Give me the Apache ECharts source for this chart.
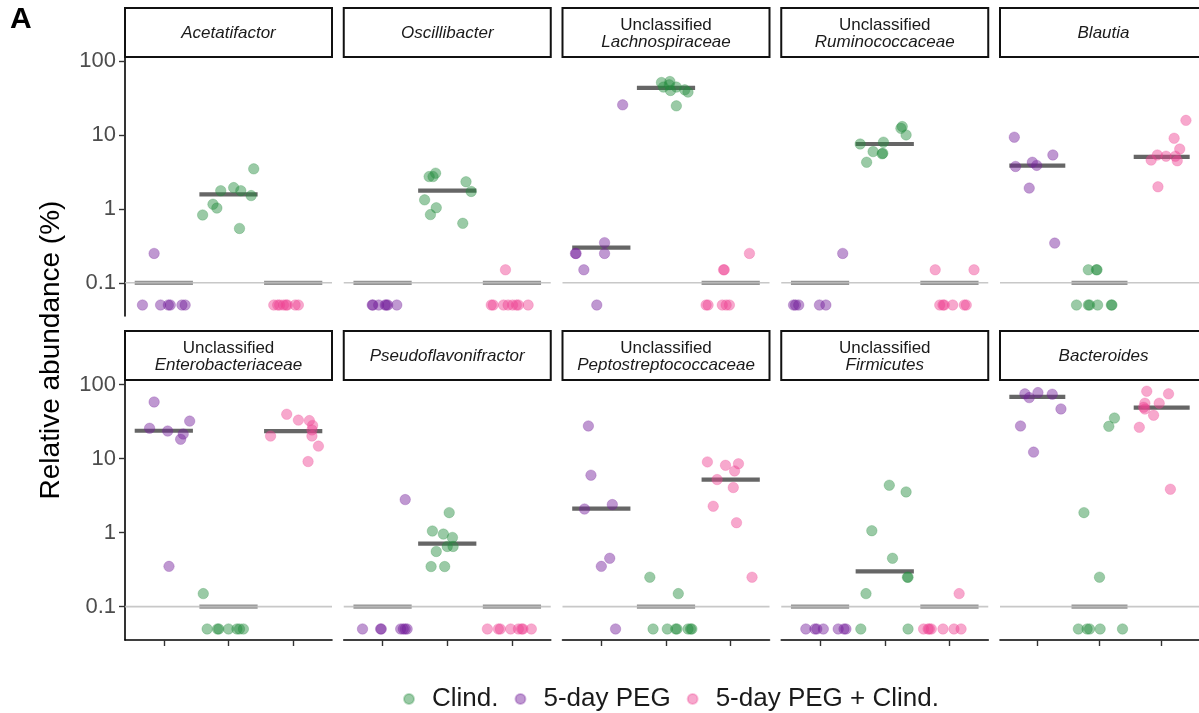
<!DOCTYPE html>
<html><head><meta charset="utf-8">
<script src="https://cdn.jsdelivr.net/npm/echarts@6/dist/echarts.min.js"></script>
<style>html,body{margin:0;padding:0;background:#fff}#c{width:1199px;height:713px}</style>
</head><body><div id="c"></div>
<script>
// ---------- data ----------
const taxaPrefix = ['', '', 'Unclassified', 'Unclassified', '', 'Unclassified', '', 'Unclassified', 'Unclassified', ''];
const taxaNames = ['Acetatifactor', 'Oscillibacter', 'Lachnospiraceae', 'Ruminococcaceae', 'Blautia',
  'Enterobacteriaceae', 'Pseudoflavonifractor', 'Peptostreptococcaceae', 'Firmicutes', 'Bacteroides'];
const groupNames = ['5-day PEG', 'Clind.', '5-day PEG + Clind.'];   // x order
const legendOrder = ['Clind.', '5-day PEG', '5-day PEG + Clind.'];
const yTickValues = [0.1, 1, 10, 100];
const yTickLabels = ['0.1', '1', '10', '100'];
const detectionLimit = 0.1;

const pegValues = [
  [0.25, 0.05, 0.05, 0.05, 0.05, 0.05, 0.05],
  [0.05, 0.05, 0.05, 0.05, 0.05, 0.05, 0.05],
  [25.8, 0.35, 0.25, 0.25, 0.25, 0.15, 0.05],
  [0.25, 0.05, 0.05, 0.05, 0.05, 0.05],
  [9.4, 5.4, 4.3, 3.77, 3.9, 1.92, 0.345],
  [58, 32, 25.6, 23.5, 21.4, 18.2, 0.35],
  [2.79, 0.05, 0.05, 0.05, 0.05, 0.05, 0.05, 0.05],
  [27.5, 5.96, 2.39, 2.08, 0.45, 0.35, 0.05],
  [0.05, 0.05, 0.05, 0.05, 0.05, 0.05, 0.05],
  [77.6, 74.6, 73.8, 66.4, 46.7, 27.5, 12.2]
];
const pegJitter = [
  [-0.15, -0.33, -0.05, 0.07, 0.10, 0.28, 0.33],
  [-0.16, -0.15, -0.06, 0.04, 0.06, 0.08, 0.22],
  [0.33, 0.05, 0.05, -0.40, -0.39, -0.27, -0.07],
  [0.35, -0.41, -0.38, -0.33, -0.01, 0.09],
  [-0.37, 0.25, -0.08, -0.35, -0.01, -0.13, 0.28],
  [-0.15, 0.40, -0.22, 0.06, 0.30, 0.26, 0.08],
  [0.35, -0.31, -0.03, -0.02, 0.28, 0.32, 0.35, 0.38],
  [-0.20, -0.16, 0.17, -0.26, 0.13, 0.0, 0.22],
  [-0.22, -0.08, -0.05, 0.05, 0.28, 0.37, 0.40],
  [0.01, -0.20, 0.24, -0.13, 0.38, -0.27, -0.06]
];
const clindValues = [
  [3.5, 1.95, 1.77, 1.77, 1.52, 1.16, 1.03, 0.83, 0.545],
  [3.06, 2.75, 2.75, 2.34, 1.73, 1.33, 1.04, 0.84, 0.64],
  [51.8, 53.4, 48.2, 44.9, 44.9, 40.4, 41.2, 38.4, 25.0],
  [13.1, 12.4, 10.1, 7.6, 8.05, 6.0, 5.6, 5.7, 4.3],
  [0.15, 0.15, 0.15, 0.05, 0.05, 0.05, 0.05, 0.05, 0.05],
  [0.15, 0.05, 0.05, 0.05, 0.05, 0.05, 0.05, 0.05],
  [1.86, 1.05, 0.955, 0.86, 0.65, 0.65, 0.556, 0.348, 0.348],
  [0.25, 0.15, 0.05, 0.05, 0.05, 0.05, 0.05, 0.05, 0.05],
  [4.36, 3.54, 1.06, 0.45, 0.25, 0.25, 0.15, 0.05, 0.05],
  [35.2, 27.2, 1.86, 0.25, 0.05, 0.05, 0.05, 0.05, 0.05]
];
const clindJitter = [
  [0.39, 0.08, -0.12, 0.19, 0.35, -0.24, -0.18, -0.40, 0.17],
  [-0.18, -0.28, -0.22, 0.29, 0.37, -0.35, -0.17, -0.26, 0.24],
  [-0.07, 0.06, 0.05, -0.04, 0.16, 0.07, 0.29, 0.34, 0.16],
  [0.27, 0.25, 0.33, -0.38, -0.02, -0.18, -0.04, -0.03, -0.28],
  [-0.18, -0.05, -0.04, -0.37, -0.18, -0.16, -0.03, 0.19, 0.20],
  [-0.39, -0.33, -0.17, -0.15, 0.0, 0.13, 0.17, 0.23],
  [0.03, -0.23, -0.06, 0.08, 0.0, 0.09, -0.17, -0.25, -0.04],
  [-0.25, 0.19, -0.20, 0.02, 0.15, 0.17, 0.34, 0.38, 0.40],
  [0.07, 0.33, -0.20, 0.12, 0.35, 0.36, -0.29, -0.37, 0.36],
  [0.24, 0.15, -0.25, 0.0, -0.34, -0.20, -0.16, 0.01, 0.37]
];
const comboValues = [
  [0.05, 0.05, 0.05, 0.05, 0.05, 0.05, 0.05, 0.05],
  [0.15, 0.05, 0.05, 0.05, 0.05, 0.05, 0.05, 0.05, 0.05],
  [0.25, 0.15, 0.15, 0.05, 0.05, 0.05, 0.05, 0.05],
  [0.15, 0.15, 0.05, 0.05, 0.05, 0.05, 0.05, 0.05],
  [15.9, 9.1, 6.5, 5.4, 5.2, 5.2, 4.6, 4.5, 2.0],
  [39.6, 33, 32.5, 28, 24.3, 20.1, 20.1, 14.7, 9.1],
  [0.05, 0.05, 0.05, 0.05, 0.05, 0.05, 0.05, 0.05],
  [9.0, 8.1, 8.5, 6.8, 5.2, 4.06, 2.27, 1.36, 0.25],
  [0.15, 0.05, 0.05, 0.05, 0.05, 0.05, 0.05, 0.05],
  [81, 74.6, 55.8, 55.8, 49.2, 46.5, 38.4, 26.4, 3.85]
];
const comboJitter = [
  [-0.30, -0.24, -0.21, -0.15, -0.11, -0.09, 0.03, 0.08],
  [-0.10, -0.32, -0.29, -0.13, -0.06, 0.01, 0.07, 0.10, 0.25],
  [0.29, -0.11, -0.10, -0.38, -0.35, -0.13, -0.07, -0.02],
  [-0.22, 0.38, -0.15, -0.10, -0.08, 0.05, 0.23, 0.26],
  [0.39, 0.20, 0.29, -0.07, 0.07, 0.22, -0.17, 0.25, -0.06],
  [-0.10, 0.08, 0.25, 0.30, 0.29, -0.35, 0.29, 0.39, 0.23],
  [-0.38, -0.21, -0.18, -0.02, 0.10, 0.15, 0.17, 0.30],
  [-0.36, -0.08, 0.12, 0.06, -0.21, 0.04, -0.27, 0.09, 0.33],
  [0.15, -0.40, -0.33, -0.31, -0.28, -0.10, 0.07, 0.18],
  [-0.24, 0.11, -0.27, -0.04, -0.29, -0.27, -0.13, -0.36, 0.14]
];
const pegMedian   = [0.1, 0.1, 0.30, 0.1, 3.88, 23.7, 0.1, 2.11, 0.1, 68];
const clindMedian = [1.58, 1.78, 43.9, 7.6, 0.1, 0.1, 0.71, 0.1, 0.30, 0.1];
const comboMedian = [0.1, 0.1, 0.1, 0.1, 5.1, 23.5, 0.1, 5.2, 0.1, 48.6];

// ---------- style / layout ----------
const FONT = '"Liberation Sans", Arial, Helvetica, sans-serif';
const groupColors = {
  '5-day PEG': 'rgba(115,30,155,0.46)',
  'Clind.': 'rgba(35,140,60,0.46)',
  '5-day PEG + Clind.': 'rgba(238,65,145,0.46)'
};
const groupBorders = {
  '5-day PEG': 'rgba(115,30,155,0.30)',
  'Clind.': 'rgba(35,140,60,0.30)',
  '5-day PEG + Clind.': 'rgba(238,65,145,0.30)'
};
const colLeft = [125, 343.75, 562.5, 781.25, 1000];
const panelW = 207;
const rowTop = [57, 380];
const rowH = [259, 260];
const stripH = 49;
const yMin = -1.45, yMax = 2.06;   // log10 extent of the axis

const log10 = v => Math.log10(v);
const valuesByGroup = [pegValues, clindValues, comboValues];
const jitterByGroup = [pegJitter, clindJitter, comboJitter];
const mediansByGroup = [pegMedian, clindMedian, comboMedian];

const grids = [], xAxes = [], yAxes = [], series = [], graphics = [];

for (let p = 0; p < 10; p++) {
  const row = Math.floor(p / 5), col = p % 5;
  grids.push({ left: colLeft[col], top: rowTop[row], width: panelW, height: rowH[row] });
  xAxes.push({
    type: 'value', gridIndex: p, min: 0.4, max: 3.6,
    show: row === 1,
    splitLine: { show: false },
    axisLine: { show: row === 1, onZero: false, lineStyle: { color: '#000', width: 1.6 } },
    axisTick: { show: row === 1, customValues: [1, 2, 3], length: 6, lineStyle: { color: '#333', width: 1.4 } },
    axisLabel: { show: false }
  });
  yAxes.push({
    type: 'value', gridIndex: p, min: yMin, max: yMax,
    show: col === 0,
    splitLine: { show: false },
    axisLine: { show: col === 0, onZero: false, lineStyle: { color: '#000', width: 1.6 } },
    axisTick: { show: col === 0, customValues: yTickValues.map(log10), length: 6, lineStyle: { color: '#333', width: 1.4 } },
    axisLabel: {
      show: col === 0, customValues: yTickValues.map(log10), margin: 9,
      color: '#4d4d4d', fontSize: 22, fontFamily: FONT,
      formatter: v => {
        const i = yTickValues.findIndex(t => Math.abs(log10(t) - v) < 1e-6);
        return i >= 0 ? yTickLabels[i] : '';
      }
    }
  });

  // median bars
  series.push({
    type: 'custom', xAxisIndex: p, yAxisIndex: p, z: 2, silent: true,
    data: mediansByGroup.map((m, gi) => [gi + 1, log10(m[p])]),
    renderItem: (params, api) => {
      const x = api.value(0), y = api.value(1);
      const a = api.coord([x - 0.45, y]), b = api.coord([x + 0.45, y]);
      const atLimit = Math.abs(y - log10(detectionLimit)) < 1e-6;
      return {
        type: 'line', shape: { x1: a[0], y1: a[1], x2: b[0], y2: b[1] },
        style: { stroke: atLimit ? '#959595' : '#666666', lineWidth: 4.2 }
      };
    }
  });
  // detection limit line
  series.push({
    type: 'line', xAxisIndex: p, yAxisIndex: p, z: 3, silent: true,
    data: [[0.4, log10(detectionLimit)], [3.6, log10(detectionLimit)]],
    showSymbol: false, symbol: 'none',
    lineStyle: { color: 'rgba(190,190,190,0.85)', width: 1.6 }
  });
  // points
  groupNames.forEach((g, gi) => {
    series.push({
      type: 'scatter', name: g, xAxisIndex: p, yAxisIndex: p, z: 5,
      symbol: 'circle', symbolSize: 10.5,
      itemStyle: { color: groupColors[g], borderColor: groupBorders[g], borderWidth: 0.8, opacity: 1 },
      data: valuesByGroup[gi][p].map((v, k) => [gi + 1 + jitterByGroup[gi][p][k], log10(v)])
    });
  });

  // strip
  const sx = colLeft[col], sy = rowTop[row] - stripH;
  graphics.push({
    type: 'rect', shape: { x: sx, y: sy, width: panelW, height: stripH },
    style: { fill: '#fff', stroke: '#111', lineWidth: 2 }, z: 10
  });
  const txt = taxaPrefix[p] ? '{n|' + taxaPrefix[p] + '}\n{i|' + taxaNames[p] + '}' : '{i|' + taxaNames[p] + '}';
  graphics.push({
    type: 'text', x: sx + panelW / 2, y: sy + stripH / 2 + 1, z: 11,
    style: {
      text: txt, align: 'center', verticalAlign: 'middle',
      rich: {
        n: { fontFamily: FONT, fontSize: 17, fontStyle: 'normal', fill: '#1a1a1a', lineHeight: 17, align: 'center' },
        i: { fontFamily: FONT, fontSize: 17, fontStyle: 'italic', fill: '#1a1a1a', lineHeight: 17, align: 'center' }
      }
    }
  });
}

graphics.push({
  type: 'text', x: 10, y: 5, z: 11,
  style: { text: 'A', fontFamily: FONT, fontSize: 30, fontWeight: 'bold', fill: '#000' }
});
graphics.push({
  type: 'text', x: 51, y: 350, rotation: Math.PI / 2, z: 11,
  style: { text: 'Relative abundance (%)', fontFamily: FONT, fontSize: 28, fill: '#000', align: 'center', verticalAlign: 'middle' }
});

const chart = echarts.init(document.getElementById('c'), null, { renderer: 'canvas' });
chart.setOption({
  backgroundColor: '#fff',
  animation: false,
  grid: grids, xAxis: xAxes, yAxis: yAxes, series: series,
  legend: {
    data: legendOrder, left: 398, top: 681,
    icon: 'circle', itemWidth: 36, itemHeight: 10, itemGap: 16,
    textStyle: { fontFamily: FONT, fontSize: 26, color: '#1a1a1a' },
    selectedMode: false
  },
  graphic: graphics
});
</script></body></html>
